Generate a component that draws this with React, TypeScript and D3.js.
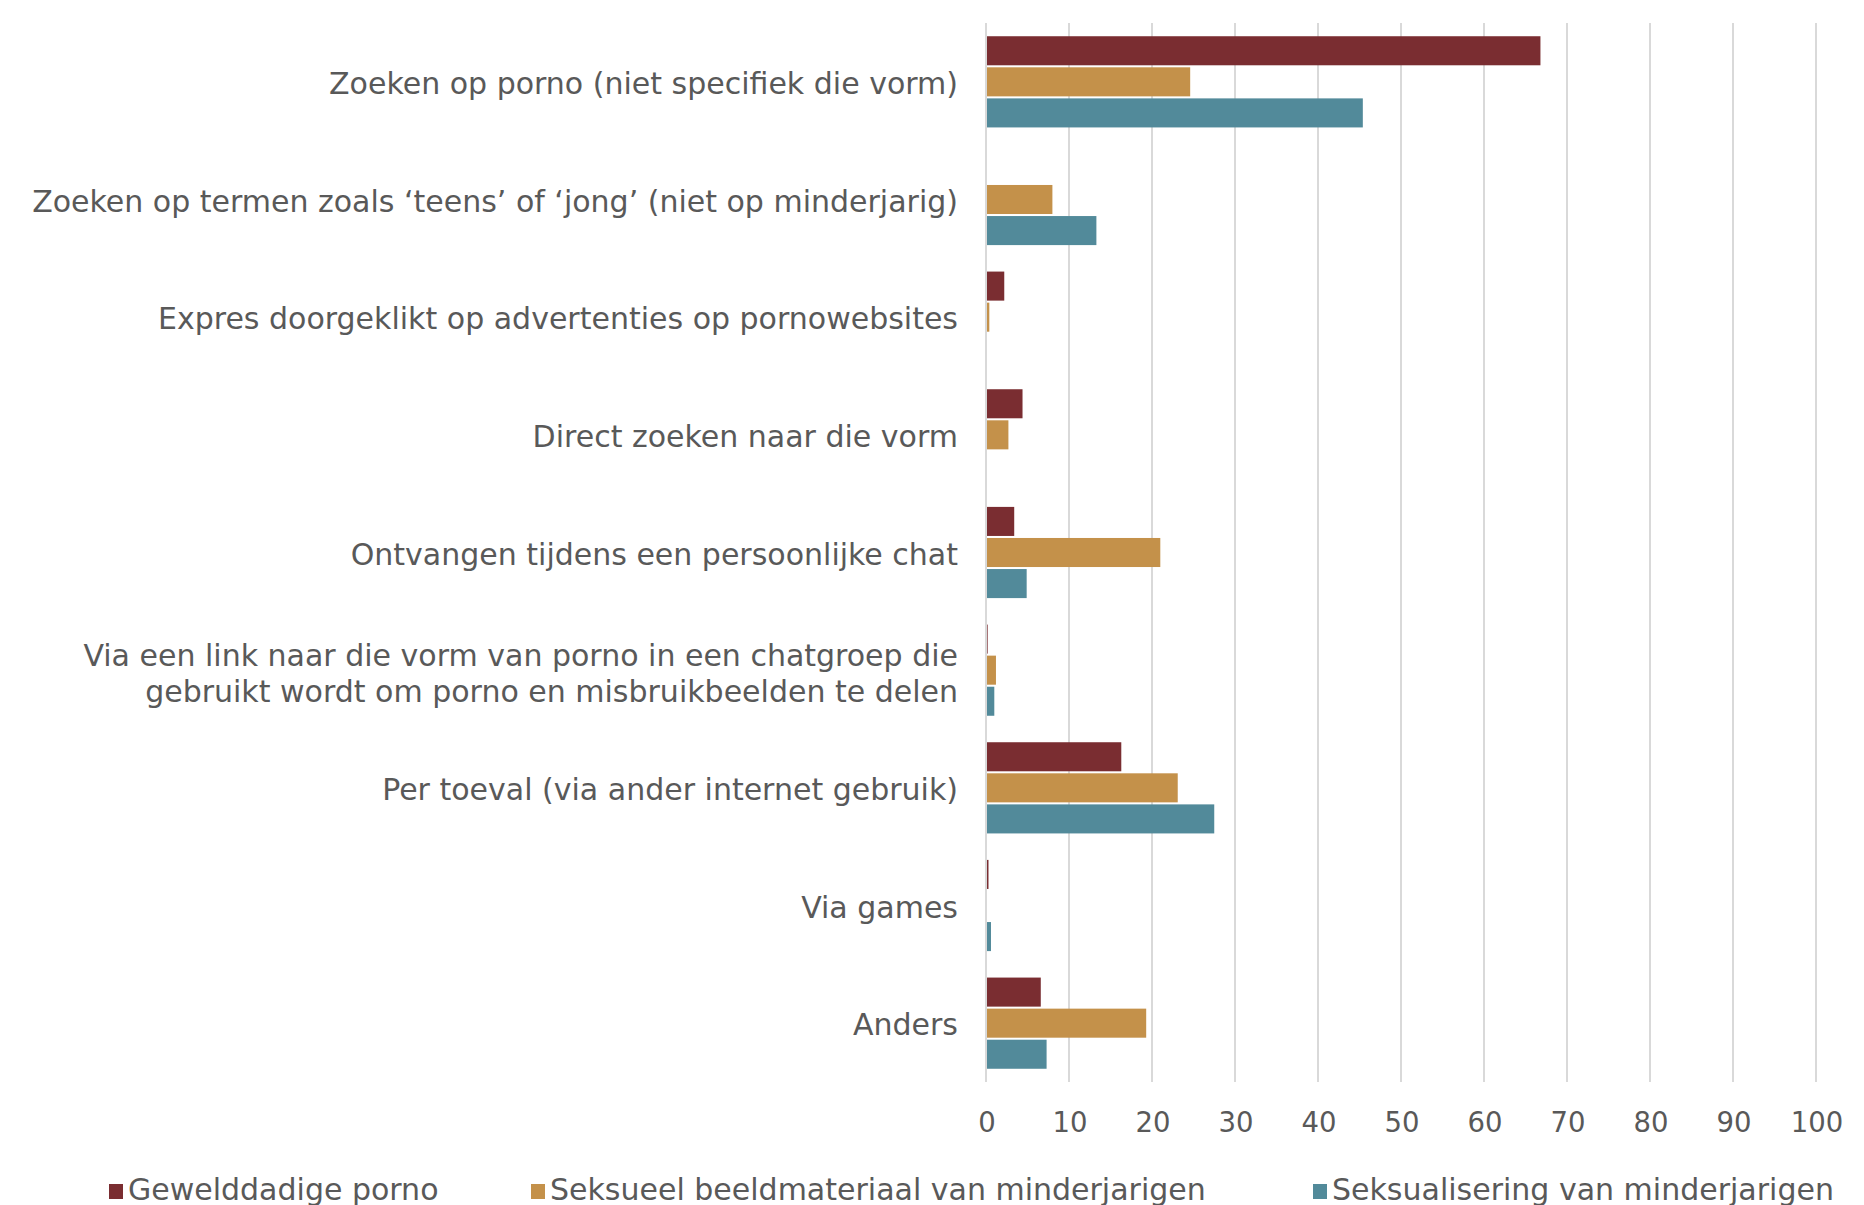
import React from "react";
import * as d3 from "d3";

const categories = [
  "Zoeken op porno (niet specifiek die vorm)",
  "Zoeken op termen zoals \u2018teens\u2019 of \u2018jong\u2019 (niet op minderjarig)",
  "Expres doorgeklikt op advertenties op pornowebsites",
  "Direct zoeken naar die vorm",
  "Ontvangen tijdens een persoonlijke chat",
  "Via een link naar die vorm van porno in een chatgroep die|gebruikt wordt om porno en misbruikbeelden te delen",
  "Per toeval (via ander internet gebruik)",
  "Via games",
  "Anders",
];

const seriesNames = [
  "Gewelddadige porno",
  "Seksueel beeldmateriaal van minderjarigen",
  "Seksualisering van minderjarigen",
];

const gewelddadig = [66.8, 0, 2.2, 4.4, 3.4, 0.2, 16.3, 0.3, 6.6];
const seksueelBeeld = [24.6, 8.0, 0.4, 2.7, 21.0, 1.2, 23.1, 0, 19.3];
const seksualisering = [45.4, 13.3, 0, 0, 4.9, 1.0, 27.5, 0.6, 7.3];

const ticks = [0, 10, 20, 30, 40, 50, 60, 70, 80, 90, 100];

const colors = ["#7A2D31", "#C4914A", "#528A9A"];

const W = 1864;
const H = 1205;
const FONT = "'DejaVu Sans', Verdana, sans-serif";
const TEXT = "#595959";

export default function App() {
  const seriesValues = [gewelddadig, seksueelBeeld, seksualisering];
  const x = d3.scaleLinear().domain([0, 100]).range([986, 1816]);
  const y = d3
    .scaleBand<string>()
    .domain(categories)
    .range([23, 1082])
    .paddingInner(0.225)
    .paddingOuter(0.1125);
  const sub = d3
    .scaleBand<string>()
    .domain(seriesNames)
    .range([0, y.bandwidth()])
    .paddingInner(0.065);

  const plotTop = 23;
  const plotBottom = 1082;

  const legendX = [109, 531, 1313];

  return (
    <svg
      width={W}
      height={H}
      style={{ position: "absolute", left: 0, top: 0, background: "#fff" }}
      fontFamily={FONT}
    >
      {ticks.map((t) => (
        <line
          key={"g" + t}
          x1={x(t)}
          x2={x(t)}
          y1={plotTop}
          y2={plotBottom}
          stroke="#D9D9D9"
          strokeWidth={2}
        />
      ))}
      {categories.map((c, i) => (
        <g key={c}>
          {seriesNames.map((s, j) => {
            const v = seriesValues[j][i];
            if (!v) return null;
            return (
              <rect
                key={s}
                x={x(0) + 1}
                y={(y(c) as number) + (sub(s) as number)}
                width={Math.max(0, x(v) - x(0) - 1)}
                height={sub.bandwidth()}
                fill={colors[j]}
              />
            );
          })}
        </g>
      ))}
      {categories.map((c) => {
        const lines = c.split("|");
        const cy = (y(c) as number) + y.bandwidth() / 2 + (lines.length > 1 ? 3.5 : 1.5);
        const lh = 36;
        return (
          <text
            key={"l" + c}
            x={958}
            textAnchor="end"
            fontSize={30}
            fill={TEXT}
          >
            {lines.map((ln, k) => (
              <tspan
                key={k}
                x={958}
                y={cy + (k - (lines.length - 1) / 2) * lh}
                dominantBaseline="central"
              >
                {ln}
              </tspan>
            ))}
          </text>
        );
      })}
      {ticks.map((t) => (
        <text
          key={"t" + t}
          x={x(t) + 1}
          y={1122}
          textAnchor="middle"
          dominantBaseline="central"
          fontSize={27.5}
          fill={TEXT}
        >
          {t}
        </text>
      ))}
      {seriesNames.map((s, j) => (
        <g key={"lg" + s}>
          <rect x={legendX[j]} y={1184} width={14} height={15} fill={colors[j]} />
          <text
            x={legendX[j] + 19}
            y={1189}
            dominantBaseline="central"
            fontSize={30}
            fill={TEXT}
          >
            {s}
          </text>
        </g>
      ))}
    </svg>
  );
}
